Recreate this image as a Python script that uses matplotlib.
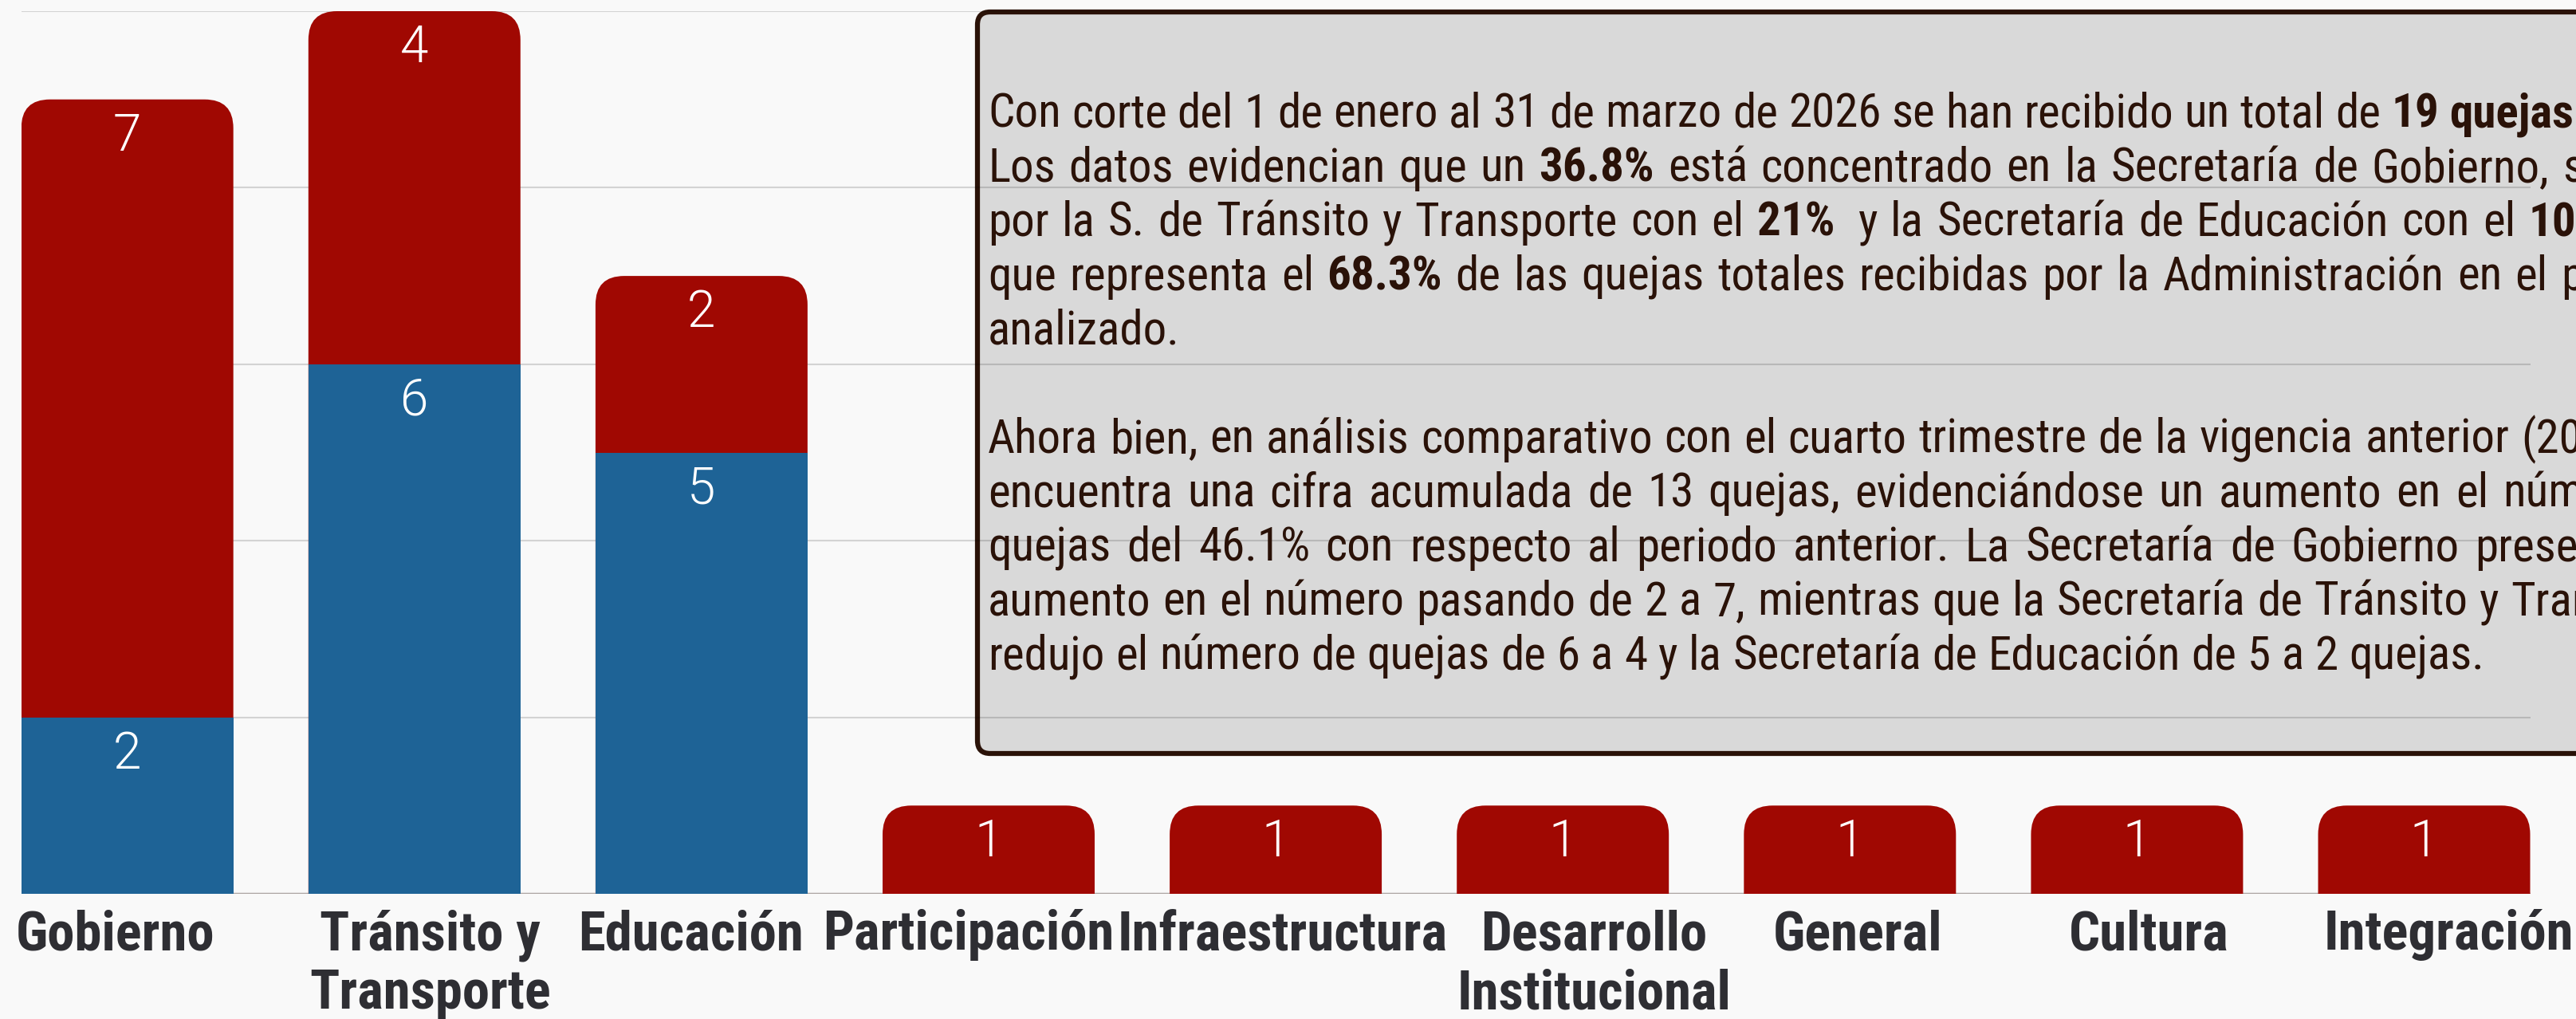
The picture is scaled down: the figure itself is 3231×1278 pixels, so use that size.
import matplotlib
matplotlib.use("Agg")
import matplotlib.pyplot as plt
from matplotlib.patches import FancyBboxPatch
from matplotlib.transforms import IdentityTransform

# quejas por secretaria: cuarto trimestre 2025 (azul) y primer trimestre 2026 (rojo)
categories = ["Gobierno", "Tránsito y\nTransporte", "Educación", "Participación",
              "Infraestructura", "Desarrollo\nInstitucional", "General", "Cultura",
              "Integración"]
prev_quarter = [2, 6, 5, 0, 0, 0, 0, 0, 0]
current_quarter = [7, 4, 2, 1, 1, 1, 1, 1, 1]
y_ticks = [0, 2, 4, 6, 8, 10]

# texto del recuadro, ** marca las palabras en negrita
note_lines = [
    "Con corte del 1 de enero al 31 de marzo de 2026 se han recibido un total de **19** **quejas.**",
    "Los datos evidencian que un **36.8%** está concentrado en la Secretaría de Gobierno, seguido",
    "por la S. de Tránsito y Transporte con el **21%**  y la Secretaría de Educación con el **10.5%,**",
    "que representa el **68.3%** de las quejas totales recibidas por la Administración en el periodo",
    "analizado.",
    "",
    "Ahora bien, en análisis comparativo con el cuarto trimestre de la vigencia anterior (2025),",
    "encuentra una cifra acumulada de 13 quejas, evidenciándose un aumento en el número",
    "quejas del 46.1% con respecto al periodo anterior. La Secretaría de Gobierno presentó",
    "aumento en el número pasando de 2 a 7, mientras que la Secretaría de Tránsito y Transporte",
    "redujo el número de quejas de 6 a 4 y la Secretaría de Educación de 5 a 2 quejas.",
]
# x (px) where the last visible word of each justified line begins; None = natural spacing
note_last_x = [3072, 3214, 3171, 3212, None, None, 3162, 3139, 3104, 3149, None]
# horizontal nudge (px) of each category label, as in the original layout
label_dx = [-15, 20, -13, -25, 9, 39, 10, 15, 31]

W, H, DPI = 3231, 1278, 100
BG = "#f9f9f9"
RED = "#a00802"
BLUE = "#1e6396"
INK = "#2a1208"
LABEL = "#2e2e33"
NARROW = ["Roboto Condensed", "DejaVu Sans"]
THIN = ["Roboto", "DejaVu Sans"]

fig = plt.figure(figsize=(W / DPI, H / DPI), dpi=DPI, facecolor=BG)
ax_left, ax_right, ax_bottom, ax_top = 26.7, 3173.5, 157, 1264
ax = fig.add_axes([ax_left / W, ax_bottom / H, (ax_right - ax_left) / W, (ax_top - ax_bottom) / H])
ax.set_facecolor("none")
bar_w = 0.7386
ax.set_xlim(-bar_w / 2, len(categories) - 1 + bar_w / 2)
ax.set_ylim(0, 10)
for s in ax.spines.values():
    s.set_visible(False)
ax.set_yticks(y_ticks)
ax.tick_params(left=False, bottom=False, labelleft=False, labelbottom=False)
ax.set_axisbelow(True)
ax.yaxis.grid(True, color="black", alpha=0.15, lw=1.5)
ax.axhline(0, color="#ada5a3", lw=2.5, zorder=0.8)

# rounded top corners, circular in pixels
x_per_px = (ax.get_xlim()[1] - ax.get_xlim()[0]) / (ax_right - ax_left)
y_per_px = 10 / (ax_top - ax_bottom)
r_px = 36
totals = [p + c for p, c in zip(prev_quarter, current_quarter)]
for i, t in enumerate(totals):
    bar = FancyBboxPatch((i - bar_w / 2, -1), bar_w, t + 1,
                         boxstyle=f"round,pad=0,rounding_size={r_px * x_per_px}",
                         mutation_aspect=y_per_px / x_per_px,
                         fc=RED, ec="none", zorder=2)
    ax.add_patch(bar)
ax.bar(range(len(categories)), prev_quarter, width=bar_w, color=BLUE, zorder=3)

for i, (p, c) in enumerate(zip(prev_quarter, current_quarter)):
    for val, top in ((p, p), (c, p + c)):
        if val:
            ax.annotate(str(val), (i, top), xytext=(0, -64), textcoords="offset pixels",
                        ha="center", va="baseline", color="white", fontsize=46,
                        family=THIN, fontweight=300, zorder=5)

# etiquetas de categoria, una linea por texto para fijar cada linea base
for i, cat in enumerate(categories):
    for j, part in enumerate(cat.split("\n")):
        ax.annotate(part, (i, 0), xycoords=("data", "axes fraction"),
                    xytext=(label_dx[i], -70 - 74 * j), textcoords="offset pixels",
                    ha="center", va="baseline", color=LABEL, fontsize=49.5,
                    family=NARROW, fontweight="bold", annotation_clip=False)

# recuadro de texto
box = FancyBboxPatch((1226, H - 945), 2100, 930, boxstyle="round,pad=0,rounding_size=16",
                     fc="#d9d9d9", ec=INK, lw=4.5, transform=IdentityTransform(),
                     zorder=0.2, clip_on=False)
ax.add_artist(box)

renderer = fig.canvas.get_renderer()


def text_width(s, size, bold=False):
    t = fig.text(0, 0, s, fontsize=size, family=NARROW, fontweight="bold" if bold else "normal")
    w = t.get_window_extent(renderer).width
    t.remove()
    return w


# size chosen so the last (unjustified) line spans the same width as the reference
base = 10
box_fs = base * 1865 / text_width(note_lines[-1], base)
space_w = text_width("a a", box_fs) - text_width("aa", box_fs)

x0, y0, step = 1239, 160, 68
for k, (line, last_x) in enumerate(zip(note_lines, note_last_x)):
    if not line:
        continue
    y = H - (y0 + step * k)
    arts, widths, extra = [], [], []
    for word in line.split(" "):
        if not word:
            # a doubled space widens the gap after the previous word
            extra[-1] += space_w
            continue
        bold = word.startswith("**")
        word = word.strip("*")
        t = ax.text(0, y, word, transform=IdentityTransform(), fontsize=box_fs, family=NARROW,
                    fontweight="bold" if bold else "normal", color=INK, ha="left",
                    va="baseline", zorder=6, clip_on=False)
        arts.append(t)
        widths.append(t.get_window_extent(renderer).width)
        extra.append(0.0)
    if last_x is None:
        gap = space_w
    else:
        gap = (last_x - x0 - sum(widths[:-1]) - sum(extra[:-1])) / (len(arts) - 1)
    x = x0
    for t, w, e in zip(arts, widths, extra):
        t.set_x(x)
        x += w + gap + e

fig.savefig("out.png", dpi=DPI, facecolor=BG)
